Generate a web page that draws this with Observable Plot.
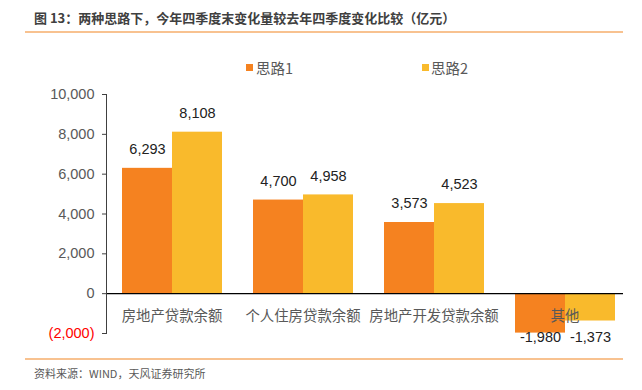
<!DOCTYPE html>
<html><head><meta charset="utf-8">
<script src="https://cdn.jsdelivr.net/npm/d3@7"></script>
<script src="https://cdn.jsdelivr.net/npm/@observablehq/plot@0.6"></script>
<style>
body{margin:0;background:#fff;}
#wrap{position:relative;width:642px;height:390px;overflow:hidden;font-family:"Liberation Sans","Noto Sans CJK SC",sans-serif;}
#title{position:absolute;left:34px;top:9px;font-size:13px;font-weight:bold;color:#404040;white-space:nowrap;font-family:"Noto Sans CJK SC",sans-serif;line-height:18px;}
.hr{position:absolute;left:25px;width:598px;height:2px;background:#F8C290;}
#source{position:absolute;left:34px;top:365px;font-size:11px;color:#595959;white-space:nowrap;font-family:"Noto Sans CJK SC",sans-serif;line-height:16px;}
.lg{position:absolute;top:59px;font-size:14.5px;color:#595959;white-space:nowrap;line-height:18px;font-family:"Noto Sans CJK SC",sans-serif;}
.sw{position:absolute;width:7px;height:7px;top:64px;}
#chart{position:absolute;left:0;top:0;}
</style></head>
<body>
<div id="wrap">
  <div id="title">图 13：两种思路下，今年四季度末变化量较去年四季度变化比较（亿元）</div>
  <div class="hr" style="top:31px"></div>
  <div id="chart"></div>
  <div class="sw" id="sw1" style="left:246px"></div>
  <div class="lg" id="lg1" style="left:256px"></div>
  <div class="sw" id="sw2" style="left:422px"></div>
  <div class="lg" id="lg2" style="left:431px"></div>
  <div class="hr" style="top:358px"></div>
  <div id="source">资料来源：WIND，天风证券研究所</div>
</div>
<script>
const categories = ["房地产贷款余额", "个人住房贷款余额", "房地产开发贷款余额", "其他"];
const series = ["思路1", "思路2"];
const values1 = [6293, 4700, 3573, -1980];
const values2 = [8108, 4958, 4523, -1373];
const yTicks = [-2000, 0, 2000, 4000, 6000, 8000, 10000];
const colors = ["#F58220", "#F9BA2C"];

const data = categories.flatMap((c, i) => [
  {cat: c, series: series[0], value: values1[i]},
  {cat: c, series: series[1], value: values2[i]}
]);
const yMin = yTicks[0];
const fmt = v => (v < 0 ? "-" : "") + d3.format(",")(Math.abs(v));
const tickFmt = v => v < 0 ? "(" + d3.format(",")(-v) + ")" : d3.format(",")(v);
const lastCat = categories[categories.length - 1];

document.getElementById("sw1").style.background = colors[0];
document.getElementById("sw2").style.background = colors[1];
document.getElementById("lg1").textContent = series[0];
document.getElementById("lg2").textContent = series[1];

const chart = Plot.plot({
  width: 642,
  height: 390,
  marginTop: 94,
  marginBottom: 57,
  marginLeft: 104,
  marginRight: 11,
  style: {fontFamily: '"Liberation Sans","Noto Sans CJK SC",sans-serif', fontSize: "14.5px", color: "#595959", background: "transparent", overflow: "visible"},
  fx: {domain: categories, padding: 0, axis: null},
  x: {domain: series, paddingInner: 0, paddingOuter: 0.31, axis: null},
  y: {domain: [yTicks[0], yTicks[yTicks.length - 1]], axis: null},
  color: {domain: series, range: colors},
  marks: [
    Plot.barY(data, {fx: "cat", x: "series", y: "value", fill: "series"}),
    Plot.ruleY(categories.filter(c => c !== lastCat), {fx: d => d, y: 0, stroke: "#000", strokeWidth: 1.3}),
    Plot.ruleY([lastCat], {fx: d => d, y: 0, stroke: "#000", strokeWidth: 1.3, insetRight: 7}),
    Plot.frame({anchor: "left", facet: "super", stroke: "#404040"}),
    Plot.axisY({ticks: yTicks.filter(t => t >= 0), tickSize: 4, tickPadding: 8, tickFormat: tickFmt, fill: "#595959", stroke: "#404040", label: null}),
    Plot.axisY({ticks: yTicks.filter(t => t < 0), tickSize: 4, tickPadding: 8, tickFormat: tickFmt, fill: "#FF0000", stroke: "#404040", label: null}),
    Plot.text(data.filter(d => d.value >= 0), {fx: "cat", x: "series", y: "value", text: d => fmt(d.value), dy: -19, fill: "#222", fontSize: 14.5}),
    Plot.text(data.filter(d => d.value < 0), {fx: "cat", x: "series", y: () => yMin, text: d => fmt(d.value), dy: 4, fill: "#222", fontSize: 14.5}),
    Plot.text(categories, {fx: d => d, y: 0, text: d => d, dy: 23, fill: "#595959", fontSize: 14.4, fontFamily: '"Noto Sans CJK SC",sans-serif'})
  ]
});
document.getElementById("chart").appendChild(chart);
</script>
</body></html>
